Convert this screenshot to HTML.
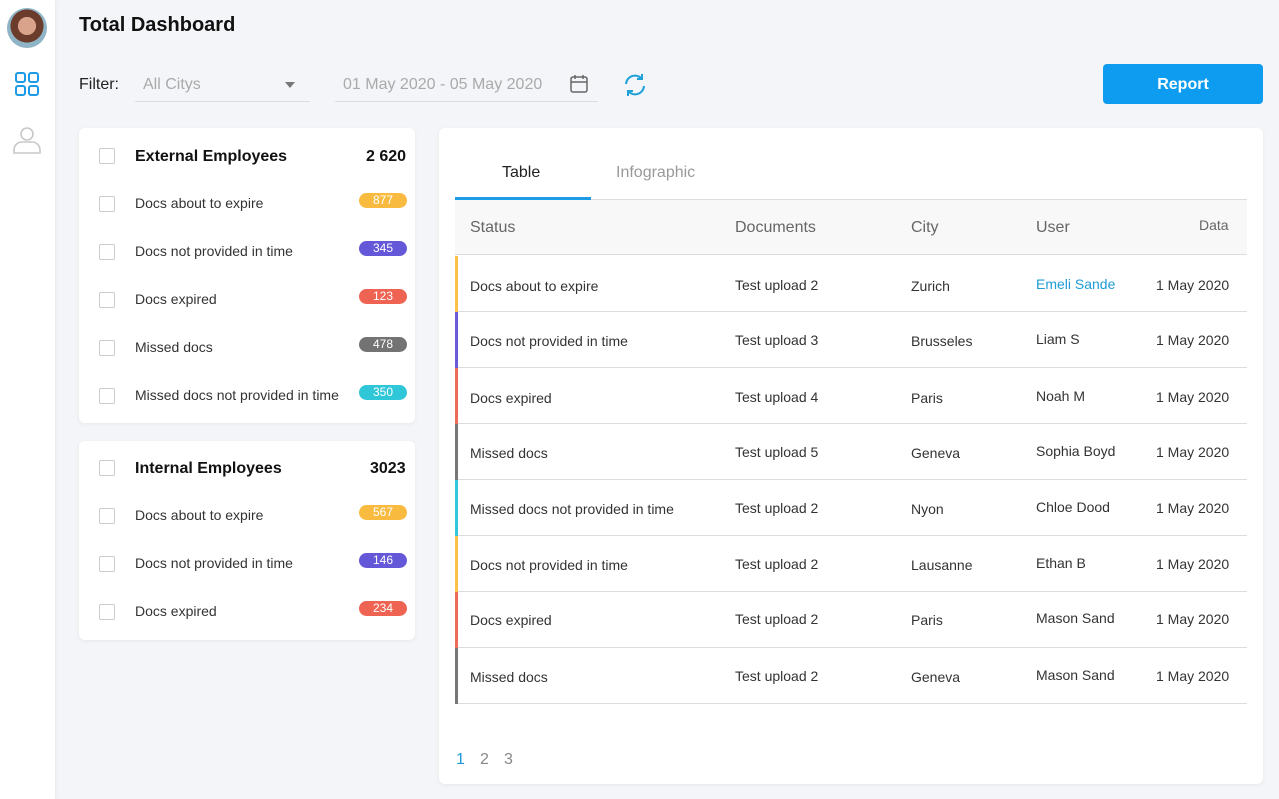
<!DOCTYPE html>
<html><head><style>
*{margin:0;padding:0;box-sizing:border-box}
body{width:1279px;height:799px;background:#f4f5f8;font-family:"Liberation Sans",sans-serif;position:relative;overflow:hidden;color:#333}
.a{position:absolute}
.side{left:0;top:0;width:55px;height:799px;background:#fff;box-shadow:1px 0 4px rgba(0,0,0,.06)}
.card{background:#fff;border-radius:6px;box-shadow:0 1px 4px rgba(0,0,0,.06)}
.cb{width:16px;height:16px;border:1.5px solid #ccc;border-radius:2px}
.t{font-size:14px;color:#333;white-space:nowrap;transform:translateY(1px)}
.badge{width:48px;height:15px;border-radius:8px;color:#fff;font-size:12px;text-align:center;line-height:15px}
.row{left:455px;width:792px;height:56px;border-bottom:1px solid #ddd}
.row .bar{left:0;top:0;width:3px;height:56px}
</style></head><body>
<div class="a side"></div>
<div class="a" style="left:7px;top:8px;width:40px;height:40px;border-radius:50%;background:radial-gradient(circle at 50% 45%,#d9a28a 0 30%,#6b3b2b 31% 55%,#8fb4c6 56%)"></div>
<svg class="a" style="left:15px;top:72px" width="24" height="24"><g fill="none" stroke="#1e9be6" stroke-width="2"><rect x="1" y="1" width="9" height="9" rx="2"/><rect x="14" y="1" width="9" height="9" rx="2"/><rect x="1" y="14" width="9" height="9" rx="2"/><rect x="14" y="14" width="9" height="9" rx="2"/></g></svg>
<svg class="a" style="left:13px;top:126px" width="28" height="28"><g fill="none" stroke="#c8c8c8" stroke-width="1.6"><circle cx="14" cy="8" r="6"/><path d="M1 27v-3a8 8 0 0 1 8-8h10a8 8 0 0 1 8 8v3z"/></g></svg>
<div class="a" style="left:79px;top:14px;font-size:20px;font-weight:bold;color:#111">Total Dashboard</div>
<div class="a" style="left:79px;top:76px;font-size:16px;color:#222">Filter:</div>
<div class="a" style="left:135px;top:65px;width:175px;height:37px;border-bottom:1px solid #ddd"></div>
<div class="a" style="left:143px;top:76px;font-size:16px;color:#aaa">All Citys</div>
<div class="a" style="left:285px;top:82px;border:5px solid transparent;border-top:6px solid #777"></div>
<div class="a" style="left:335px;top:65px;width:263px;height:37px;border-bottom:1px solid #ddd"></div>
<div class="a" style="left:343px;top:76px;font-size:16px;color:#aaa">01 May 2020 - 05 May 2020</div>
<svg class="a" style="left:569px;top:74px" width="20" height="20"><g fill="none" stroke="#666" stroke-width="1.5"><rect x="2" y="3" width="16" height="15" rx="2"/><path d="M2 8h16M6 1v4M14 1v4"/></g></svg>
<svg class="a" style="left:622px;top:72px" width="26" height="26"><g fill="none" stroke="#1ea0d8" stroke-width="2"><path d="M4 12a9 9 0 0 1 16-5"/><path d="M22 14a9 9 0 0 1-16 5"/><path d="M20 2v5h-5M6 24v-5h5"/></g></svg>
<div class="a" style="left:1103px;top:64px;width:160px;height:40px;background:#0e9cf0;border-radius:4px;color:#fff;font-weight:bold;font-size:16px;text-align:center;line-height:41px">Report</div>

<div class="a card" style="left:79px;top:128px;width:336px;height:295px"></div>
<div class="a card" style="left:79px;top:441px;width:336px;height:199px"></div>
<div class="a cb" style="left:99px;top:148px"></div>
<div class="a" style="left:135px;top:148px;font-size:16px;font-weight:bold;color:#111">External Employees</div>
<div class="a" style="left:366px;top:148px;font-size:16px;font-weight:bold;color:#111">2 620</div>
<div class="a cb" style="left:99px;top:460px"></div>
<div class="a" style="left:135px;top:460px;font-size:16px;font-weight:bold;color:#111">Internal Employees</div>
<div class="a" style="left:370px;top:460px;font-size:16px;font-weight:bold;color:#111">3023</div>

<div class="a cb" style="left:99px;top:196px"></div><div class="a t" style="left:135px;top:194px">Docs about to expire</div><div class="a badge" style="left:359px;top:193px;background:#f9bb3f">877</div>
<div class="a cb" style="left:99px;top:244px"></div><div class="a t" style="left:135px;top:242px">Docs not provided in time</div><div class="a badge" style="left:359px;top:241px;background:#6558d8">345</div>
<div class="a cb" style="left:99px;top:292px"></div><div class="a t" style="left:135px;top:290px">Docs expired</div><div class="a badge" style="left:359px;top:289px;background:#ee6352">123</div>
<div class="a cb" style="left:99px;top:340px"></div><div class="a t" style="left:135px;top:338px">Missed docs</div><div class="a badge" style="left:359px;top:337px;background:#737373">478</div>
<div class="a cb" style="left:99px;top:388px"></div><div class="a t" style="left:135px;top:386px">Missed docs not provided in time</div><div class="a badge" style="left:359px;top:385px;background:#2fc6d8">350</div>
<div class="a cb" style="left:99px;top:508px"></div><div class="a t" style="left:135px;top:506px">Docs about to expire</div><div class="a badge" style="left:359px;top:505px;background:#f9bb3f">567</div>
<div class="a cb" style="left:99px;top:556px"></div><div class="a t" style="left:135px;top:554px">Docs not provided in time</div><div class="a badge" style="left:359px;top:553px;background:#6558d8">146</div>
<div class="a cb" style="left:99px;top:604px"></div><div class="a t" style="left:135px;top:602px">Docs expired</div><div class="a badge" style="left:359px;top:601px;background:#ee6352">234</div>

<div class="a card" style="left:439px;top:128px;width:824px;height:656px"></div>
<div class="a" style="left:502px;top:164px;font-size:16px;color:#222">Table</div>
<div class="a" style="left:616px;top:164px;font-size:16px;color:#999">Infographic</div>
<div class="a" style="left:455px;top:199px;width:792px;height:1px;background:#ddd"></div>
<div class="a" style="left:455px;top:197px;width:136px;height:3px;background:#1e9be6"></div>
<div class="a" style="left:455px;top:200px;width:792px;height:55px;background:#f8f8f8;border-bottom:1px solid #ddd"></div>
<div class="a" style="left:470px;top:219px;font-size:16px;color:#666">Status</div>
<div class="a" style="left:735px;top:219px;font-size:16px;color:#666">Documents</div>
<div class="a" style="left:911px;top:219px;font-size:16px;color:#666">City</div>
<div class="a" style="left:1036px;top:219px;font-size:16px;color:#666">User</div>
<div class="a" style="left:1199px;top:217px;font-size:14px;color:#666">Data</div>

<div class="a row" style="top:256px"><div class="a bar" style="background:#f9c04a"></div></div>
<div class="a row" style="top:312px"><div class="a bar" style="background:#6a5ad8"></div></div>
<div class="a row" style="top:368px"><div class="a bar" style="background:#ee6b5b"></div></div>
<div class="a row" style="top:424px"><div class="a bar" style="background:#777"></div></div>
<div class="a row" style="top:480px"><div class="a bar" style="background:#33c7d9"></div></div>
<div class="a row" style="top:536px"><div class="a bar" style="background:#f9c04a"></div></div>
<div class="a row" style="top:592px"><div class="a bar" style="background:#ee6b5b"></div></div>
<div class="a row" style="top:648px"><div class="a bar" style="background:#777"></div></div>

<div class="a t" style="left:470px;top:277px">Docs about to expire</div><div class="a t" style="left:735px;top:276px">Test upload 2</div><div class="a t" style="left:911px;top:277px">Zurich</div><div class="a t" style="left:1036px;top:275px;color:#1e9bd6">Emeli Sande</div><div class="a t" style="left:1156px;top:276px">1 May 2020</div>
<div class="a t" style="left:470px;top:332px">Docs not provided in time</div><div class="a t" style="left:735px;top:331px">Test upload 3</div><div class="a t" style="left:911px;top:332px">Brusseles</div><div class="a t" style="left:1036px;top:330px">Liam S</div><div class="a t" style="left:1156px;top:331px">1 May 2020</div>
<div class="a t" style="left:470px;top:389px">Docs expired</div><div class="a t" style="left:735px;top:388px">Test upload 4</div><div class="a t" style="left:911px;top:389px">Paris</div><div class="a t" style="left:1036px;top:387px">Noah M</div><div class="a t" style="left:1156px;top:388px">1 May 2020</div>
<div class="a t" style="left:470px;top:444px">Missed docs</div><div class="a t" style="left:735px;top:443px">Test upload 5</div><div class="a t" style="left:911px;top:444px">Geneva</div><div class="a t" style="left:1036px;top:442px">Sophia Boyd</div><div class="a t" style="left:1156px;top:443px">1 May 2020</div>
<div class="a t" style="left:470px;top:500px">Missed docs not provided in time</div><div class="a t" style="left:735px;top:499px">Test upload 2</div><div class="a t" style="left:911px;top:500px">Nyon</div><div class="a t" style="left:1036px;top:498px">Chloe Dood</div><div class="a t" style="left:1156px;top:499px">1 May 2020</div>
<div class="a t" style="left:470px;top:556px">Docs not provided in time</div><div class="a t" style="left:735px;top:555px">Test upload 2</div><div class="a t" style="left:911px;top:556px">Lausanne</div><div class="a t" style="left:1036px;top:554px">Ethan B</div><div class="a t" style="left:1156px;top:555px">1 May 2020</div>
<div class="a t" style="left:470px;top:611px">Docs expired</div><div class="a t" style="left:735px;top:610px">Test upload 2</div><div class="a t" style="left:911px;top:611px">Paris</div><div class="a t" style="left:1036px;top:609px">Mason Sand</div><div class="a t" style="left:1156px;top:610px">1 May 2020</div>
<div class="a t" style="left:470px;top:668px">Missed docs</div><div class="a t" style="left:735px;top:667px">Test upload 2</div><div class="a t" style="left:911px;top:668px">Geneva</div><div class="a t" style="left:1036px;top:666px">Mason Sand</div><div class="a t" style="left:1156px;top:667px">1 May 2020</div>

<div class="a" style="left:456px;top:751px;font-size:16px;color:#1e9bd6">1</div>
<div class="a" style="left:480px;top:751px;font-size:16px;color:#888">2</div>
<div class="a" style="left:504px;top:751px;font-size:16px;color:#888">3</div>
</body></html>
